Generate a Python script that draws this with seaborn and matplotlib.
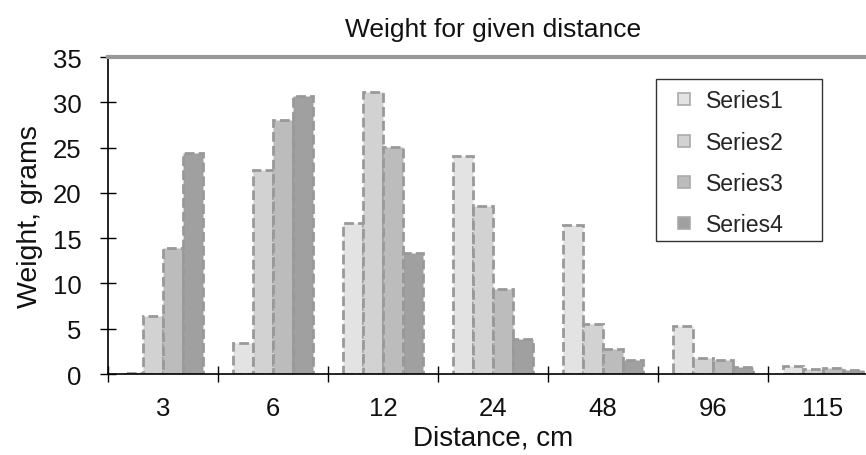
import matplotlib
matplotlib.use("Agg")
import matplotlib.pyplot as plt
from matplotlib.lines import Line2D
from matplotlib.patches import Rectangle
import seaborn as sns
import pandas as pd
import numpy as np

# Data
distances = ["3", "6", "12", "24", "48", "96", "115"]
series_names = ["Series1", "Series2", "Series3", "Series4"]
series1 = [0.1, 3.4, 16.7, 24.1, 16.5, 5.3, 0.9]
series2 = [6.4, 22.5, 31.2, 18.6, 5.5, 1.8, 0.5]
series3 = [13.9, 28.0, 25.1, 9.4, 2.8, 1.5, 0.7]
series4 = [24.4, 30.7, 13.4, 3.9, 1.6, 0.8, 0.4]
fills = ["#e3e3e3", "#d2d2d2", "#bcbcbc", "#a0a0a0"]

rows = []
for name, vals in zip(series_names, [series1, series2, series3, series4]):
    for d, v in zip(distances, vals):
        rows.append({"Distance": d, "Weight": v, "Series": name})
df = pd.DataFrame(rows)

sns.set_style("white")
plt.rcParams["font.family"] = ["Liberation Sans", "DejaVu Sans"]

fig = plt.figure(figsize=(8.66, 4.56), dpi=100)
ax = fig.add_axes([0.1247, 0.1776, 0.889, 0.695])

sns.barplot(data=df, x="Distance", y="Weight", hue="Series", order=distances,
            hue_order=series_names, palette=fills, width=0.73, saturation=1,
            edgecolor="#999999", linewidth=2, ax=ax, legend=False)
for p in ax.patches:
    p.set_linestyle((0, (3.5, 1.5)))

ax.set_xlim(-0.5, 6.5)
ax.set_ylim(0, 35)
ax.set_yticks(np.arange(0, 36, 5))
ax.set_xticks(np.arange(-0.5, 7, 1), minor=True)
ax.tick_params(axis="x", which="major", length=0, labelsize=18.5, pad=16, labelcolor="#111111")
ax.tick_params(axis="x", which="minor", direction="inout", length=12, width=1, color="black", bottom=True)
ax.tick_params(axis="y", direction="inout", length=12, width=1, color="black", left=True,
               labelsize=18.5, pad=13, labelcolor="#111111")

ax.spines["right"].set_visible(False)
ax.spines["left"].set_color("black")
ax.spines["left"].set_linewidth(1.2)
ax.spines["bottom"].set_color("black")
ax.spines["bottom"].set_linewidth(1.2)
ax.spines["top"].set_color("#999999")
ax.spines["top"].set_linewidth(3)

ax.set_title("Weight for given distance", fontsize=19, pad=15, color="#111111")
ax.set_xlabel("Distance, cm", fontsize=20, labelpad=3, color="#111111")
ax.set_ylabel("Weight, grams", fontsize=20.5, labelpad=7, color="#111111")

# legend frame drawn separately (Excel-style wide box)
box = Rectangle((0.7575, 0.4693), 0.1917, 0.3553, transform=fig.transFigure,
                facecolor="white", edgecolor="#333333", linewidth=1, zorder=3, clip_on=False)
ax.add_artist(box)
handles = [Line2D([], [], marker="s", linestyle="none", markersize=8, markerfacecolor=c,
                  markeredgecolor="#aaaaaa", markeredgewidth=1.2) for c in fills]
leg = ax.legend(handles, series_names, loc="upper left", bbox_to_anchor=(0.7575, 0.8246),
                bbox_transform=fig.transFigure, fontsize=16.6, frameon=False,
                handlelength=1.5, handletextpad=0.2, labelspacing=0.79,
                borderpad=0.45, borderaxespad=0)
leg.set_zorder(5)

fig.savefig("out.png", dpi=100)
